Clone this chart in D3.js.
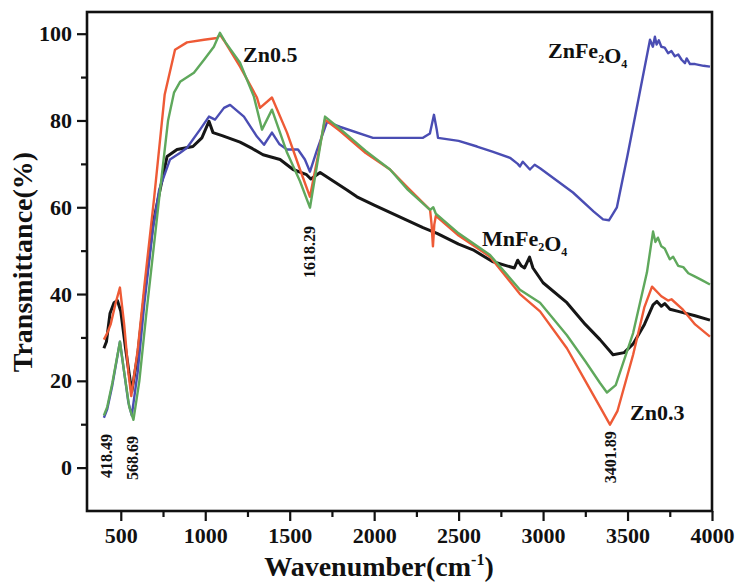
<!DOCTYPE html>
<html>
<head>
    <title>FTIR spectra</title>
    <script src="https://d3js.org/d3.v7.min.js"></script>
    <style>
        body { margin: 0; background: #fff; }
        text { font-family: "Liberation Serif", "Times New Roman", serif; font-weight: bold; }
    </style>
</head>
<body>
<svg width="736" height="582"></svg>
<script>
    // series: [wavenumber, transmittance]
    const mnFe = [[400, 27.5], [415, 29], [436, 35.5], [460, 38], [480, 38.5], [500, 36], [530, 27], [565, 17.5],
        [600, 26], [640, 40], [690, 56], [727, 63], [774, 71.7], [833, 73.3], [927, 74], [980, 76], [1022, 79.8],
        [1046, 77.2], [1100, 76.5], [1206, 75], [1280, 73.5], [1342, 72.1], [1443, 71], [1520, 68.7], [1600, 67.5],
        [1625, 66.5], [1680, 68], [1839, 64], [1898, 62.4], [2000, 60.5], [2212, 56.7], [2289, 55.3], [2372, 54],
        [2500, 51.5], [2585, 50.2], [2700, 47.5], [2786, 46.5], [2830, 46], [2850, 47.8], [2870, 46.5], [2890, 46],
        [2920, 48.5], [2940, 46], [3000, 42.6], [3141, 38], [3250, 33], [3337, 29.5], [3414, 26], [3480, 26.5],
        [3533, 28.5], [3600, 33], [3651, 37.5], [3674, 38.3], [3700, 37.2], [3720, 37.8], [3751, 36.5], [3800, 36],
        [3900, 35], [3988, 34]];

    const znFe = [[400, 11.5], [420, 13.5], [450, 19], [495, 29], [520, 22], [545, 15], [565, 12], [600, 22],
        [640, 38], [690, 55], [727, 64], [791, 71], [850, 72.5], [892, 73.7], [969, 77.9], [1022, 80.9],
        [1058, 80.2], [1111, 82.9], [1147, 83.6], [1229, 80.9], [1306, 76.3], [1348, 74.4], [1395, 77.2],
        [1440, 74.5], [1484, 73.3], [1549, 73.3], [1590, 71], [1620, 68.2], [1660, 73], [1721, 79.7], [1800, 78.5],
        [1993, 76], [2289, 76], [2330, 77], [2354, 81.3], [2370, 78], [2378, 76], [2500, 75.3], [2609, 74],
        [2700, 72.8], [2804, 71.4], [2850, 70], [2863, 69.4], [2880, 70.5], [2922, 68.7], [2950, 69.8], [2982, 69],
        [3177, 63.4], [3300, 59], [3355, 57.2], [3390, 57], [3437, 60], [3500, 72], [3570, 86], [3633, 98.6],
        [3650, 97], [3662, 99.3], [3672, 97.5], [3685, 98.5], [3700, 97], [3720, 96.8], [3740, 95.5], [3760, 96],
        [3780, 94.8], [3800, 95.2], [3820, 94], [3840, 93.2], [3850, 94.3], [3870, 93], [3900, 93], [3950, 92.6],
        [3988, 92.4]];

    const zn03 = [[400, 29.5], [420, 31], [440, 33], [470, 38], [495, 41.5], [520, 33], [545, 22], [562, 16.5],
        [600, 27], [640, 42], [697, 62], [760, 86], [821, 96.3], [892, 98], [993, 98.6], [1070, 99], [1087, 99.8],
        [1110, 98.5], [1206, 92.4], [1306, 85.3], [1324, 82.9], [1395, 85.3], [1484, 77.2], [1561, 68.7],
        [1620, 62.4], [1709, 80.2], [1800, 77.5], [1950, 72.5], [2094, 68.7], [2200, 64.5], [2331, 59.4],
        [2340, 56], [2348, 51], [2356, 56], [2365, 58], [2500, 53.5], [2686, 48.6], [2863, 40], [2982, 36],
        [3141, 27.5], [3250, 20], [3337, 14], [3396, 9.9], [3440, 13], [3533, 26], [3600, 37], [3645, 41.7],
        [3700, 39.5], [3740, 38.5], [3760, 38.8], [3828, 36.4], [3900, 33], [3988, 30.2]];

    const zn05 = [[400, 12], [420, 14], [450, 19.5], [495, 29], [520, 22], [550, 14], [575, 11], [610, 20],
        [650, 35], [727, 62], [780, 80], [815, 86.4], [851, 88.9], [933, 91], [993, 94], [1051, 97], [1087, 100.2],
        [1120, 98], [1206, 93.3], [1288, 85.5], [1336, 77.9], [1395, 82.5], [1484, 72.6], [1561, 66], [1620, 59.9],
        [1709, 80.9], [1800, 78], [1950, 73], [2094, 68.7], [2200, 64], [2331, 59.4], [2350, 60], [2365, 58.5],
        [2500, 54], [2686, 49], [2863, 41], [2982, 38], [3141, 30.5], [3250, 24.5], [3337, 19.5], [3378, 17.3],
        [3430, 19], [3533, 31], [3615, 45], [3651, 54.4], [3665, 52], [3680, 53], [3700, 51], [3720, 50.5],
        [3750, 48], [3770, 48.6], [3800, 46.5], [3830, 46.2], [3860, 44.8], [3900, 44], [3940, 43.2], [3988, 42.2]];

    const seriesList = [
        { data: mnFe, color: "#161616", width: 3 },
        { data: znFe, color: "#4a4db3", width: 2.4 },
        { data: zn03, color: "#ee5a36", width: 2.4 },
        { data: zn05, color: "#5fa85c", width: 2.4 }
    ];

    const xTicks = [500, 1000, 1500, 2000, 2500, 3000, 3500, 4000];
    const xMinor = [750, 1250, 1750, 2250, 2750, 3250, 3750];
    const yTicks = [0, 20, 40, 60, 80, 100];
    const yMinor = [10, 30, 50, 70, 90];

    const peakLabels = [
        { text: "418.49", x: 418, y: 2.7 },
        { text: "568.69", x: 568, y: 2.2 },
        { text: "1618.29", x: 1618, y: 49.7 },
        { text: "3401.89", x: 3401, y: 2.4 }
    ];

    const svg = d3.select("svg");
    const mLeft = 87, mRight = 712, mTop = 12, mBottom = 511;

    const x = d3.scaleLinear().domain([300, 4000]).range([mLeft, mRight]);
    const y = d3.scaleLinear().domain([-10, 105]).range([mBottom, mTop]);

    // minor ticks
    svg.append("g")
        .attr("transform", `translate(0,${mBottom})`)
        .call(d3.axisBottom(x).tickValues(xMinor).tickSize(6).tickFormat(""))
        .call(g => g.select(".domain").remove());
    svg.append("g")
        .attr("transform", `translate(${mLeft},0)`)
        .call(d3.axisLeft(y).tickValues(yMinor).tickSize(6).tickFormat(""))
        .call(g => g.select(".domain").remove());

    // major ticks
    const xAxis = svg.append("g")
        .attr("transform", `translate(0,${mBottom})`)
        .call(d3.axisBottom(x).tickValues(xTicks).tickSize(10).tickPadding(6).tickFormat(d3.format("d")));
    xAxis.select(".domain").remove();
    xAxis.selectAll("text").attr("font-size", 22).attr("fill", "#111");

    const yAxis = svg.append("g")
        .attr("transform", `translate(${mLeft},0)`)
        .call(d3.axisLeft(y).tickValues(yTicks).tickSize(10).tickPadding(5).tickFormat(d3.format("d")));
    yAxis.select(".domain").remove();
    yAxis.selectAll("text").attr("font-size", 22).attr("fill", "#111");

    svg.selectAll(".tick line").attr("stroke", "#111").attr("stroke-width", 2.2);
    svg.selectAll(".tick text").style("font-family", "Liberation Serif").style("font-weight", "bold");

    // curves
    const line = d3.line()
        .x(d => x(d[0]))
        .y(d => y(d[1]))
        .curve(d3.curveLinear);

    svg.append("g").selectAll("path")
        .data(seriesList)
        .join("path")
        .attr("d", d => line(d.data))
        .attr("fill", "none")
        .attr("stroke", d => d.color)
        .attr("stroke-width", d => d.width)
        .attr("stroke-linejoin", "round");

    // frame
    svg.append("rect")
        .attr("x", mLeft).attr("y", mTop)
        .attr("width", mRight - mLeft).attr("height", mBottom - mTop)
        .attr("fill", "none").attr("stroke", "#111").attr("stroke-width", 2.6);

    // axis titles
    const xt = svg.append("text")
        .attr("x", 379).attr("y", 576)
        .attr("text-anchor", "middle")
        .attr("font-size", 28)
        .attr("fill", "#111");
    xt.append("tspan").text("Wavenumber(cm");
    xt.append("tspan").attr("font-size", 16).attr("dy", -11).text("-1");
    xt.append("tspan").attr("dy", 11).text(")");

    svg.append("text")
        .attr("transform", "translate(32,262) rotate(-90)")
        .attr("text-anchor", "middle")
        .attr("font-size", 28)
        .attr("fill", "#111")
        .text("Transmittance(%)");

    // series names
    function label(txt, px, py, subs) {
        const t = svg.append("text")
            .attr("x", px).attr("y", py)
            .attr("font-size", 22)
            .attr("fill", "#111");
        if (!subs) { t.text(txt); return; }
        subs.forEach(s => {
            if (s.sub) {
                t.append("tspan").attr("font-size", 12).attr("dy", 5).text(s.t);
                t.append("tspan").attr("dy", -5).text("");
            } else {
                t.append("tspan").text(s.t);
            }
        });
    }

    label("Zn0.5", 243, 62);
    label("Zn0.3", 630, 420);
    label("", 548, 58, [{ t: "ZnFe" }, { t: "2", sub: true }, { t: "O" }, { t: "4", sub: true }]);
    label("", 482, 246, [{ t: "MnFe" }, { t: "2", sub: true }, { t: "O" }, { t: "4", sub: true }]);

    // peak positions, rotated
    svg.append("g").selectAll("text")
        .data(peakLabels)
        .join("text")
        .attr("transform", d => `translate(${x(d.x)},${y(d.y)}) rotate(-90)`)
        .attr("text-anchor", "middle")
        .attr("dy", "0.34em")
        .attr("font-size", 16)
        .attr("fill", "#111")
        .text(d => d.text);
</script>
</body>
</html>
